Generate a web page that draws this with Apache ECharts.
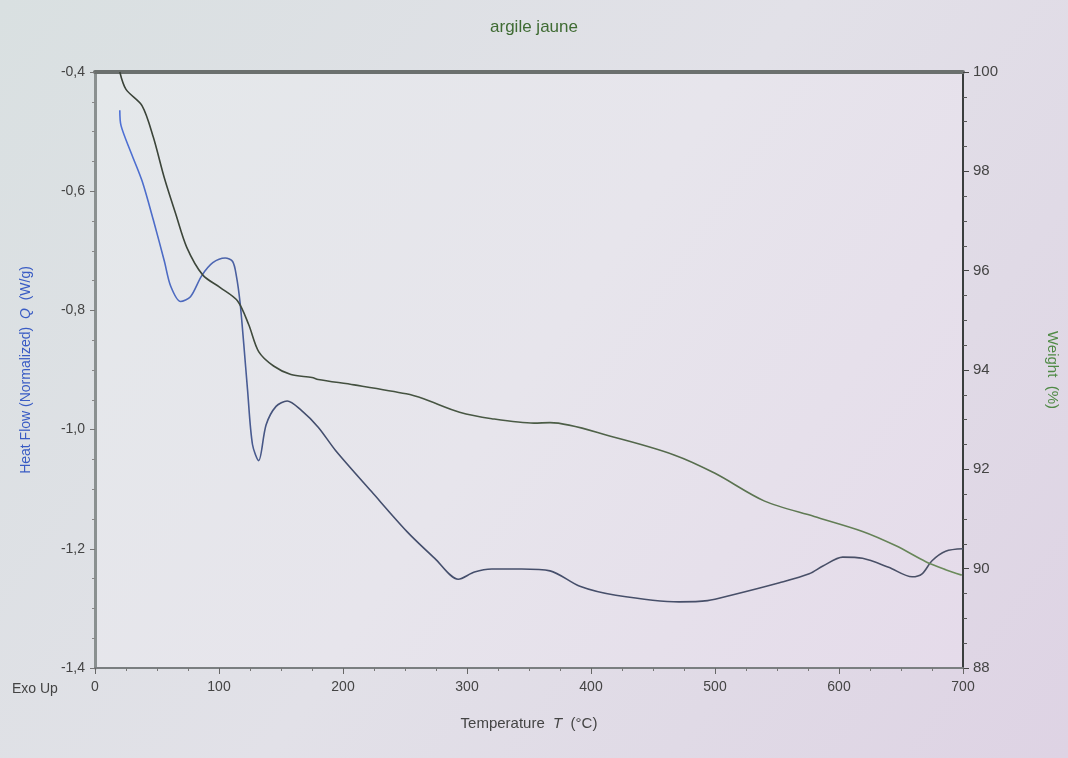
<!DOCTYPE html>
<html>
<head>
<meta charset="utf-8">
<script src="https://cdn.jsdelivr.net/npm/echarts@6/dist/echarts.min.js"></script>
<style>html,body{margin:0;padding:0;}#c{width:1068px;height:758px;}</style>
</head>
<body>
<div id="c"></div>
<script>
// Heat flow (W/g) vs temperature (°C)
var hfTemp = [20,21,29,38,47,56,61,69,77,86,95,105,111,114,117,120,123,127,132,138,146,155,166,180,194,223,252,274,293,306,320,344,367,391,420,471,494,513,552,576,587,603,619,640,659,667,675,686,700];
var hfVal = [-0.464,-0.49,-0.535,-0.583,-0.648,-0.718,-0.759,-0.785,-0.777,-0.742,-0.72,-0.712,-0.718,-0.742,-0.787,-0.857,-0.933,-1.025,-1.052,-0.992,-0.961,-0.952,-0.967,-0.996,-1.035,-1.104,-1.172,-1.216,-1.251,-1.239,-1.234,-1.234,-1.237,-1.263,-1.278,-1.289,-1.287,-1.278,-1.257,-1.242,-1.229,-1.214,-1.216,-1.231,-1.247,-1.242,-1.220,-1.204,-1.200];
// Weight (%) vs temperature (°C)
var wTemp = [20,25,38,47,56,65,74,87,101,115,124,132,144,158,175,180,209,251,265,294,320,354,367,418,467,500,540,580,619,646,670,686,699];
var wVal = [100,99.65,99.32,98.69,97.86,97.15,96.47,95.91,95.66,95.39,94.91,94.37,94.08,93.91,93.85,93.81,93.70,93.52,93.42,93.15,93.02,92.93,92.94,92.65,92.29,91.92,91.36,91.05,90.75,90.46,90.14,89.98,89.87];
var xTicks = [0,100,200,300,400,500,600,700];
var hfTicks = [-1.4,-1.2,-1.0,-0.8,-0.6,-0.4];
var wTicks = [88,90,92,94,96,98,100];

function pairs(a,b){ return a.map(function(v,i){ return [v,b[i]]; }); }

var chart = echarts.init(document.getElementById('c'));
chart.setOption({
  backgroundColor: new echarts.graphic.LinearGradient(0,0,1,1,[
    {offset:0,color:'#d9e0e1'},{offset:0.5,color:'#e2e1e8'},{offset:1,color:'#ded3e4'}]),
  animation:false,
  title:{text:'argile jaune',left:'center',top:14,
    textStyle:{color:'#3f6b33',fontFamily:'Liberation Sans',fontSize:17,fontWeight:'normal'}},
  grid:{left:95,right:103,top:72,bottom:90,show:true,borderWidth:0,
    backgroundColor:new echarts.graphic.LinearGradient(0,0,1,1,[
      {offset:0,color:'#e4e8ea'},{offset:0.5,color:'#e7e5ec'},{offset:1,color:'#e5dbea'}])},
  graphic:[{type:'text',left:12,top:682,style:{text:'Exo Up',fill:'#444',font:'14px "Liberation Sans"'}}],
  xAxis:[{
    type:'value',min:0,max:700,interval:100,position:'bottom',
    name:'{a|Temperature  }{i|T}{a|  (°C)}',nameLocation:'middle',nameGap:48,
    nameTextStyle:{rich:{a:{fontSize:15,color:'#444',fontFamily:'Liberation Sans'},i:{fontSize:15,color:'#444',fontStyle:'italic',fontFamily:'Liberation Sans'}}},
    axisLine:{onZero:false,lineStyle:{color:'#7a7e80',width:2}},
    axisTick:{length:6,lineStyle:{color:'#666'}},
    minorTick:{show:true,splitNumber:4,length:3,lineStyle:{color:'#777'}},
    splitLine:{show:false},
    axisLabel:{color:'#444',fontSize:14,fontFamily:'Liberation Sans',margin:12}
  },{
    type:'value',min:0,max:700,position:'top',
    axisLine:{onZero:false,lineStyle:{color:'#6b706e',width:4}},
    axisTick:{show:false},axisLabel:{show:false},splitLine:{show:false}
  }],
  yAxis:[{
    type:'value',min:-1.4,max:-0.4,interval:0.2,position:'left',
    name:'{a|Heat Flow (Normalized)  }{i|Q}{a|  (W/g)}',nameLocation:'middle',nameGap:62,
    nameTextStyle:{rich:{a:{fontSize:14,color:'#3a5cc4',fontFamily:'Liberation Sans'},i:{fontSize:14,color:'#3a5cc4',fontStyle:'italic',fontFamily:'Liberation Sans'}}},
    axisLine:{show:true,onZero:false,lineStyle:{color:'#8a9090',width:3}},
    axisTick:{length:5,lineStyle:{color:'#777'}},
    minorTick:{show:true,splitNumber:4,length:3,lineStyle:{color:'#888'}},
    splitLine:{show:false},
    axisLabel:{color:'#444',fontSize:14,fontFamily:'Liberation Sans',margin:10,
      formatter:function(v){ return v.toFixed(1).replace('.',','); }}
  },{
    type:'value',min:88,max:100,interval:2,position:'right',
    name:'Weight  (%)',nameLocation:'middle',nameGap:82,nameRotate:-90,
    nameTextStyle:{fontSize:15,color:'#4f8a45',fontFamily:'Liberation Sans'},
    axisLine:{show:true,onZero:false,lineStyle:{color:'#3a3e3e',width:2}},
    axisTick:{length:6,lineStyle:{color:'#444'}},
    minorTick:{show:true,splitNumber:4,length:4,lineStyle:{color:'#555'}},
    splitLine:{show:false},
    axisLabel:{color:'#444',fontSize:15,fontFamily:'Liberation Sans',margin:10}
  }],
  series:[{
    type:'line',name:'Heat Flow',xAxisIndex:0,yAxisIndex:0,showSymbol:false,smooth:0.3,
    data:pairs(hfTemp,hfVal),
    lineStyle:{width:1.6,color:new echarts.graphic.LinearGradient(0,0,1,0,[
      {offset:0,color:'#4d70d6'},{offset:0.12,color:'#4d66b0'},{offset:0.2,color:'#434e6e'},{offset:1,color:'#4a5066'}])}
  },{
    type:'line',name:'Weight',xAxisIndex:0,yAxisIndex:1,showSymbol:false,smooth:0.3,
    data:pairs(wTemp,wVal),
    lineStyle:{width:1.6,color:new echarts.graphic.LinearGradient(0,0,1,0,[
      {offset:0,color:'#3a4238'},{offset:0.5,color:'#4b5c46'},{offset:1,color:'#6c8c5c'}])}
  }]
});
</script>
</body>
</html>
